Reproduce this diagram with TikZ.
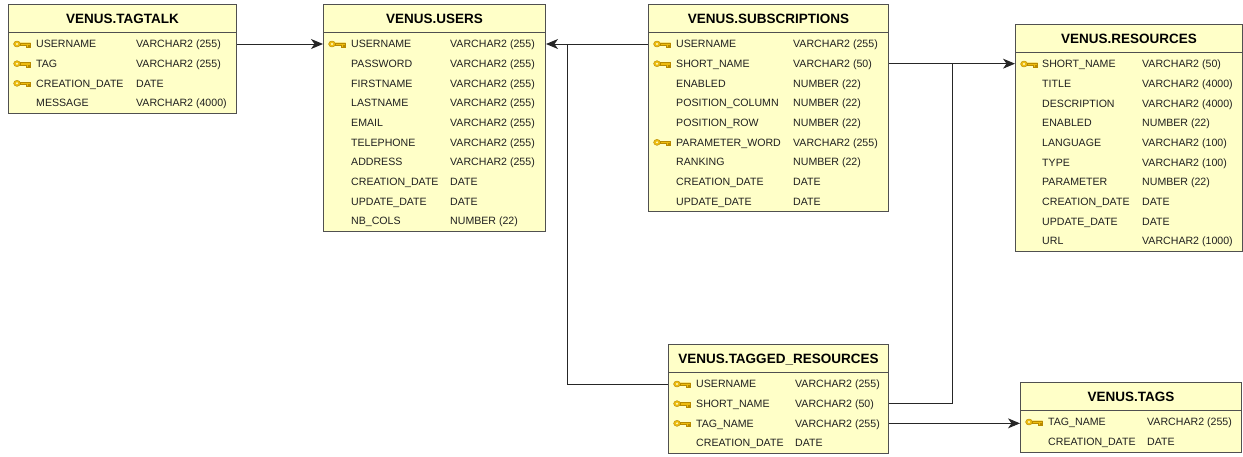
\documentclass[tikz,border=0pt]{standalone}
\usepackage{fontspec}
\setmainfont{Liberation Sans}
\usetikzlibrary{arrows.meta}
\definecolor{tblfill}{HTML}{FFFFC8}
\definecolor{tblborder}{HTML}{505050}
\definecolor{keygold}{HTML}{EDBB10}
\definecolor{keyedge}{HTML}{B88A00}
\definecolor{rowtext}{HTML}{202020}

\tikzset{
	table/.style={draw=tblborder, fill=tblfill, line width=1pt, inner sep=0pt, anchor=north west},
	sepline/.style={draw=tblborder, line width=1pt},
	tabletitle/.style={font=\fontsize{13.5}{15}\selectfont\bfseries, text height=10pt, text depth=0pt, inner sep=0pt},
	field/.style={font=\fontsize{10.6}{12}\selectfont, text=rowtext, text height=7.5pt, text depth=0pt, anchor=west, inner sep=0pt},
	fk/.style={draw=black!85, line width=1pt, -{Stealth[length=12pt,width=10pt,inset=3.5pt]}},
	link/.style={draw=black!85, line width=1pt},
	key/.pic={
		\filldraw[fill=keygold, draw=keyedge, line width=0.4pt] (0,0) ellipse (3.4 and 3);
		\fill[tblfill] (0,0) circle (1.1);
		\filldraw[fill=keygold, draw=keyedge, line width=0.4pt] (3.2,-1.3) -- (13.5,-1.3) -- (13.5,3.2) -- (12,3.2)
			-- (12,1.3) -- (11,1.3) -- (11,3.2) -- (9.5,3.2) -- (9.5,1.3) -- (3.2,1.3) -- cycle;
	}
}

\begin{document}
\begin{tikzpicture}[x=1pt,y=-1pt]
	\useasboundingbox (0,0) rectangle (1243,456);

	% VENUS.TAGTALK
	\node[table, minimum width=228pt, minimum height=109pt] (tagtalk) at (8,4) {};
	\node[tabletitle] (tagtalk-title) at ([yshift=-14pt]tagtalk.north) {VENUS.TAGTALK};
	\draw[sepline] ([yshift=-28pt]tagtalk.north west) -- ([yshift=-28pt]tagtalk.north east);
	\foreach \f/\t/\k [count=\i from 0] in {USERNAME/VARCHAR2 (255)/1, TAG/VARCHAR2 (255)/1,
		CREATION\_DATE/DATE/1, MESSAGE/VARCHAR2 (4000)/0}{
		\node[field] (tagtalk-f\i) at (36,{44+19.67*\i}) {\f};
		\node[field] (tagtalk-t\i) at (136,{44+19.67*\i}) {\t};
		\ifnum\k=1 \pic at (17,{44+19.67*\i}) {key}; \fi
	}

	% VENUS.USERS
	\node[table, minimum width=222pt, minimum height=227pt] (users) at (323,4) {};
	\node[tabletitle] (users-title) at ([yshift=-14pt]users.north) {VENUS.USERS};
	\draw[sepline] ([yshift=-28pt]users.north west) -- ([yshift=-28pt]users.north east);
	\foreach \f/\t/\k [count=\i from 0] in {USERNAME/VARCHAR2 (255)/1, PASSWORD/VARCHAR2 (255)/0,
		FIRSTNAME/VARCHAR2 (255)/0, LASTNAME/VARCHAR2 (255)/0, EMAIL/VARCHAR2 (255)/0,
		TELEPHONE/VARCHAR2 (255)/0, ADDRESS/VARCHAR2 (255)/0, CREATION\_DATE/DATE/0,
		UPDATE\_DATE/DATE/0, NB\_COLS/NUMBER (22)/0}{
		\node[field] (users-f\i) at (351,{44+19.67*\i}) {\f};
		\node[field] (users-t\i) at (450,{44+19.67*\i}) {\t};
		\ifnum\k=1 \pic at (332,{44+19.67*\i}) {key}; \fi
	}

	% VENUS.SUBSCRIPTIONS
	\node[table, minimum width=240pt, minimum height=207.4pt] (subs) at (648,4) {};
	\node[tabletitle] (subs-title) at ([yshift=-14pt]subs.north) {VENUS.SUBSCRIPTIONS};
	\draw[sepline] ([yshift=-28pt]subs.north west) -- ([yshift=-28pt]subs.north east);
	\foreach \f/\t/\k [count=\i from 0] in {USERNAME/VARCHAR2 (255)/1, SHORT\_NAME/VARCHAR2 (50)/1,
		ENABLED/NUMBER (22)/0, POSITION\_COLUMN/NUMBER (22)/0, POSITION\_ROW/NUMBER (22)/0,
		PARAMETER\_WORD/VARCHAR2 (255)/1, RANKING/NUMBER (22)/0, CREATION\_DATE/DATE/0,
		UPDATE\_DATE/DATE/0}{
		\node[field] (subs-f\i) at (676,{44+19.67*\i}) {\f};
		\node[field] (subs-t\i) at (793,{44+19.67*\i}) {\t};
		\ifnum\k=1 \pic at (657,{44+19.67*\i}) {key}; \fi
	}

	% VENUS.RESOURCES
	\node[table, minimum width=227pt, minimum height=227pt] (res) at (1015,24) {};
	\node[tabletitle] (res-title) at ([yshift=-14pt]res.north) {VENUS.RESOURCES};
	\draw[sepline] ([yshift=-28pt]res.north west) -- ([yshift=-28pt]res.north east);
	\foreach \f/\t/\k [count=\i from 0] in {SHORT\_NAME/VARCHAR2 (50)/1, TITLE/VARCHAR2 (4000)/0,
		DESCRIPTION/VARCHAR2 (4000)/0, ENABLED/NUMBER (22)/0, LANGUAGE/VARCHAR2 (100)/0,
		TYPE/VARCHAR2 (100)/0, PARAMETER/NUMBER (22)/0, CREATION\_DATE/DATE/0,
		UPDATE\_DATE/DATE/0, URL/VARCHAR2 (1000)/0}{
		\node[field] (res-f\i) at (1042,{64+19.67*\i}) {\f};
		\node[field] (res-t\i) at (1142,{64+19.67*\i}) {\t};
		\ifnum\k=1 \pic at (1024,{64+19.67*\i}) {key}; \fi
	}

	% VENUS.TAGGED_RESOURCES
	\node[table, minimum width=220pt, minimum height=109pt] (tagged) at (668,344) {};
	\node[tabletitle] (tagged-title) at ([yshift=-14pt]tagged.north) {VENUS.TAGGED\_RESOURCES};
	\draw[sepline] ([yshift=-28pt]tagged.north west) -- ([yshift=-28pt]tagged.north east);
	\foreach \f/\t/\k [count=\i from 0] in {USERNAME/VARCHAR2 (255)/1, SHORT\_NAME/VARCHAR2 (50)/1,
		TAG\_NAME/VARCHAR2 (255)/1, CREATION\_DATE/DATE/0}{
		\node[field] (tagged-f\i) at (696,{384+19.67*\i}) {\f};
		\node[field] (tagged-t\i) at (795,{384+19.67*\i}) {\t};
		\ifnum\k=1 \pic at (677,{384+19.67*\i}) {key}; \fi
	}

	% VENUS.TAGS
	\node[table, minimum width=221pt, minimum height=69.7pt] (tags) at (1020,382) {};
	\node[tabletitle] (tags-title) at ([yshift=-14pt]tags.north) {VENUS.TAGS};
	\draw[sepline] ([yshift=-28pt]tags.north west) -- ([yshift=-28pt]tags.north east);
	\foreach \f/\t/\k [count=\i from 0] in {TAG\_NAME/VARCHAR2 (255)/1, CREATION\_DATE/DATE/0}{
		\node[field] (tags-f\i) at (1048,{422+19.67*\i}) {\f};
		\node[field] (tags-t\i) at (1147,{422+19.67*\i}) {\t};
		\ifnum\k=1 \pic at (1029,{422+19.67*\i}) {key}; \fi
	}

	% foreign keys
	\coordinate (usersjoin) at (567,0 |- users-f0);
	\coordinate (resjoin) at (952,0 |- subs-f1);
	\draw[fk] (tagtalk.east |- tagtalk-f0) -- (users.west |- tagtalk-f0);
	\draw[fk] (subs.west |- subs-f0) -- (users.east |- subs-f0);
	\draw[link] (tagged.west |- tagged-f0) -| (usersjoin);
	\draw[fk] (subs.east |- subs-f1) -- (res.west |- subs-f1);
	\draw[link] (tagged.east |- tagged-f1) -| (resjoin);
	\draw[fk] (tagged.east |- tagged-f2) -- (tags.west |- tagged-f2);
\end{tikzpicture}
\end{document}
